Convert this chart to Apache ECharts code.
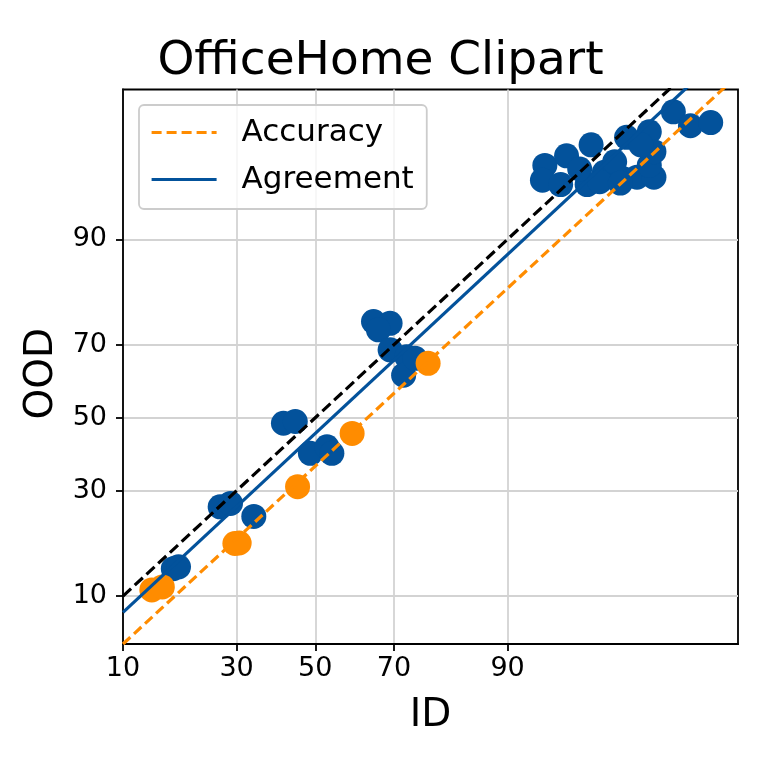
<!DOCTYPE html>
<html>
<head>
<meta charset="utf-8">
<script src="https://cdn.jsdelivr.net/npm/echarts@6/dist/echarts.min.js"></script>
<style>
html, body { margin: 0; padding: 0; background: #fff; }
#chart { width: 761px; height: 761px; }
</style>
</head>
<body>
<div id="chart"></div>
<script>
// ID / OOD accuracy (%) of each model
var accId  = [13.8, 15.4, 29.6, 30.6, 45.3, 59.7, 77.4];
var accOod = [10.8, 11.2, 18.3, 18.4, 31.0, 45.5, 65.2];
// ID / OOD agreement (%) of each model pair
var agrId  = [17.2, 18.1, 26.3, 28.6, 34.1, 41.6, 44.7, 48.7, 53.1, 54.4,
              65.1, 69.1, 66.3, 69.1, 72.9, 72.2, 74.7,
              93.7, 93.5, 95.3, 94.9, 96.7, 96.5, 96.1, 97.3, 97.1, 98.0,
              98.4, 98.8, 98.7, 98.1, 98.7, 98.8, 99.15, 99.38, 99.58, 97.7,
              97.9, 98.5];
var agrOod = [13.9, 14.2, 26.1, 26.9, 23.9, 48.4, 48.9, 39.9, 41.7, 39.9,
              75.5, 75.1, 73.6, 68.7, 66.9, 62.0, 66.5,
              96.5, 95.6, 97.0, 95.3, 97.5, 95.3, 96.3, 96.1, 95.5, 95.7,
              95.8, 95.8, 96.5, 97.8, 98.0, 97.2, 98.6, 98.2, 98.3, 96.7,
              95.4, 97.5];
var tickPct = [10, 30, 50, 70, 90];
var xRange = [10, 99.758];
var yRange = [5.2, 99.08];
// linear fits in probit space: [slope, intercept]
var accFit = [0.997, -0.348];
var agrFit = [1.003, -0.113];

var BLUE = '#03529b', ORANGE = '#ff8c00';
var FONT = 'DejaVu Sans';

// inverse normal cdf (Acklam)
function probit(p) {
    var a = [-39.69683028665376, 220.9460984245205, -275.9285104469687, 138.3577518672690, -30.66479806614716, 2.506628277459239];
    var b = [-54.47609879822406, 161.5858368580409, -155.6989798598866, 66.80131188771972, -13.28068155288572];
    var c = [-0.007784894002430293, -0.3223964580411365, -2.400758277161838, -2.549732539343734, 4.374664141464968, 2.938163982698783];
    var d = [0.007784695709041462, 0.3224671290700398, 2.445134137142996, 3.754408661907416];
    var q, r;
    if (p < 0.02425) {
        q = Math.sqrt(-2 * Math.log(p));
        return (((((c[0]*q+c[1])*q+c[2])*q+c[3])*q+c[4])*q+c[5]) / ((((d[0]*q+d[1])*q+d[2])*q+d[3])*q+1);
    }
    if (p > 1 - 0.02425) {
        q = Math.sqrt(-2 * Math.log(1 - p));
        return -(((((c[0]*q+c[1])*q+c[2])*q+c[3])*q+c[4])*q+c[5]) / ((((d[0]*q+d[1])*q+d[2])*q+d[3])*q+1);
    }
    q = p - 0.5;
    r = q * q;
    return (((((a[0]*r+a[1])*r+a[2])*r+a[3])*r+a[4])*r+a[5])*q / (((((b[0]*r+b[1])*r+b[2])*r+b[3])*r+b[4])*r+1);
}
var pr = function (v) { return probit(v / 100); };

var pairs = function (xs, ys) {
    return xs.map(function (x, i) { return [pr(x), pr(ys[i])]; });
};
var xMin = pr(xRange[0]), xMax = pr(xRange[1]);
var yMin = pr(yRange[0]), yMax = pr(yRange[1]);
var fitLine = function (f) {
    return [[xMin, f[0] * xMin + f[1]], [xMax, f[0] * xMax + f[1]]];
};
var tickVals = tickPct.map(pr);
var tickFmt = function (v) {
    for (var i = 0; i < tickVals.length; i++) {
        if (Math.abs(tickVals[i] - v) < 1e-6) return String(tickPct[i]);
    }
    return '';
};

var axisCommon = function () {
    return {
        type: 'value',
        axisLine: { show: true, onZero: false, lineStyle: { color: '#000', width: 1.8 } },
        axisTick: { show: true, customValues: tickVals, length: 7, lineStyle: { color: '#000', width: 1.8 } },
        axisLabel: { customValues: tickVals, formatter: tickFmt, color: '#000', fontSize: 27, fontFamily: FONT },
        splitLine: { show: true, lineStyle: { color: '#d3d3d3', width: 1.8 } },
        nameLocation: 'middle',
        nameTextStyle: { color: '#000', fontSize: 39, fontFamily: FONT }
    };
};

var xAxis = axisCommon();
xAxis.min = xMin; xAxis.max = xMax;
xAxis.name = 'ID'; xAxis.nameGap = 52;
xAxis.axisLabel.margin = 11;
var yAxis = axisCommon();
yAxis.min = yMin; yAxis.max = yMax;
yAxis.name = 'OOD'; yAxis.nameGap = 59;
yAxis.nameTextStyle.padding = [0, 14, 0, 0];
yAxis.axisLabel.margin = 16;

var chart = echarts.init(document.getElementById('chart'), null, { renderer: 'canvas' });
chart.setOption({
    animation: false,
    backgroundColor: '#fff',
    title: {
        text: 'OfficeHome Clipart',
        left: 'center',
        top: 33,
        textStyle: { fontSize: 47, fontWeight: 'normal', color: '#000', fontFamily: FONT }
    },
    grid: {
        left: 123, top: 89.5, width: 615, height: 554.5,
        show: true, borderColor: '#000', borderWidth: 1.8, backgroundColor: 'transparent'
    },
    legend: {
        data: ['Accuracy', 'Agreement'],
        orient: 'vertical',
        left: 139, top: 105,
        padding: [12, 13, 14, 11],
        itemWidth: 65, itemHeight: 14, itemGap: 16,
        itemStyle: { opacity: 0 },
        lineStyle: { width: 3.2 },
        backgroundColor: 'rgba(255,255,255,0.8)',
        borderColor: '#cccccc', borderWidth: 1.8, borderRadius: 5,
        textStyle: { fontSize: 31, fontFamily: FONT, color: '#000', padding: [0, 0, 0, 20] }
    },
    xAxis: xAxis,
    yAxis: yAxis,
    series: [
        {
            name: 'agreement points', type: 'scatter', symbolSize: 25,
            itemStyle: { color: BLUE, opacity: 1 },
            data: pairs(agrId, agrOod), z: 2
        },
        {
            name: 'accuracy points', type: 'scatter', symbolSize: 25,
            itemStyle: { color: ORANGE, opacity: 1 },
            data: pairs(accId, accOod), z: 2
        },
        {
            name: 'y=x', type: 'line', symbol: 'none', z: 3,
            lineStyle: { color: '#000', width: 3.2, type: [11, 5] },
            data: [[xMin, xMin], [xMax, xMax]]
        },
        {
            name: 'Accuracy', type: 'line', symbol: 'none', z: 3,
            itemStyle: { color: ORANGE },
            lineStyle: { color: ORANGE, width: 3.2, type: [10, 5] },
            data: fitLine(accFit)
        },
        {
            name: 'Agreement', type: 'line', symbol: 'none', z: 3,
            itemStyle: { color: BLUE },
            lineStyle: { color: BLUE, width: 3.2 },
            data: fitLine(agrFit)
        }
    ]
});
</script>
</body>
</html>
